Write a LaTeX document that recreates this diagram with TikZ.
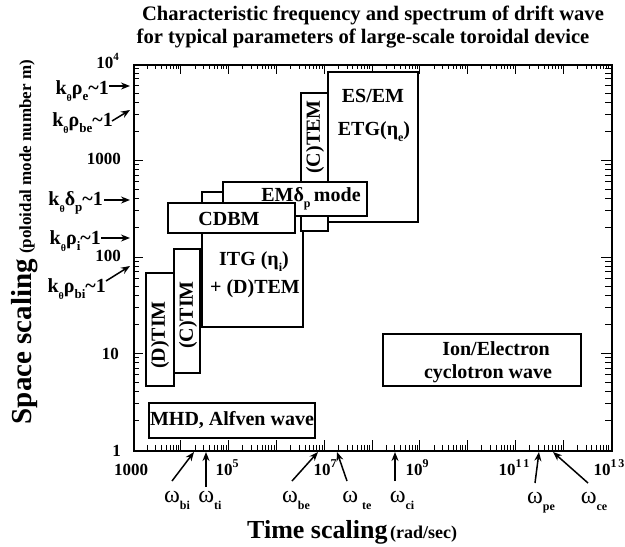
\documentclass[tikz,border=0pt]{standalone}
\usepackage{fontspec}
\setmainfont{Liberation Serif}
\usetikzlibrary{arrows.meta}
\newcommand\dn[3][0.3em]{\raisebox{-#1}{\fontsize{#2}{#2}\selectfont #3}}
\newcommand\upx[2]{\raisebox{0.42em}{\fontsize{#1}{#1}\selectfont #2}}
\newcommand\bx[5]{\node[box, anchor=north west, minimum width={(#4)-(#2)}, minimum height={(#5)-(#3)}] (#1) at (#2,#3) {};}
\tikzset{
  box/.style={draw, line width=1.2pt, fill=white, inner sep=0pt, outer sep=0pt},
  lbl/.style={font=\bfseries\fontsize{20}{22}\selectfont, inner sep=0pt},
  ttl/.style={font=\bfseries\fontsize{20.6}{22}\selectfont, inner sep=0pt},
  klbl/.style={font=\bfseries\fontsize{20}{22}\selectfont, inner sep=0pt},
  wlbl/.style={font=\fontsize{24}{24}\selectfont, inner sep=0pt},
  tlbl/.style={font=\bfseries\fontsize{17}{18}\selectfont, inner sep=0pt},
  arr/.style={line width=1.5pt, -{Stealth[length=9pt,width=7pt]}},
  tick/.style={line width=1pt},
}
\begin{document}
\begin{tikzpicture}[x=1pt,y=-1pt]
\useasboundingbox (0,0) rectangle (625,547);
% title
\node[ttl, anchor=base] (t1) at (373,20) {Characteristic frequency and spectrum of drift wave};
\node[ttl, anchor=base] (t2) at (363,43) {for typical parameters of large-scale toroidal device};
% frame
\node[draw, line width=2pt, inner sep=0pt, anchor=north west, minimum width=478, minimum height=386] (frame) at (133,64) {};
% ticks
\foreach \d in {0,...,9} {
  \foreach \k in {1,...,9} {
    \pgfmathsetmacro\xx{133+(\d+log10(\k))*47.8}
    \pgfmathsetmacro\tl{ifthenelse(\k==1,10,5)}
    \draw[tick] (\xx,450) -- (\xx,450-\tl);
    \draw[tick] (\xx,64) -- (\xx,64+\tl);
  }
}
\foreach \d in {0,...,3} {
  \foreach \k in {1,...,9} {
    \pgfmathsetmacro\yy{450-(\d+log10(\k))*96.5}
    \pgfmathsetmacro\tl{ifthenelse(\k==1,10,6)}
    \draw[tick] (133,\yy) -- (133+\tl,\yy);
    \draw[tick] (611,\yy) -- (611-\tl,\yy);
  }
}
% y tick labels
\node[tlbl, anchor=base east] (y4) at (119,68) {10\upx{11}{4}};
\node[tlbl, anchor=base east] (y3) at (121,164) {1000};
\node[tlbl, anchor=base east] (y2) at (121,261) {100};
\node[tlbl, anchor=base east] (y1) at (119,359) {10};
\node[tlbl, anchor=base east] (y0) at (121,456) {1};
% x tick labels
\node[tlbl, anchor=base] (x3) at (131,475) {1000};
\node[tlbl, anchor=base] (x5) at (227,475) {10\upx{12}{5}};
\node[tlbl, anchor=base] (x7) at (325,475) {10\upx{12}{7}};
\node[tlbl, anchor=base] (x9) at (417,475) {10\upx{12}{9}};
\node[tlbl, anchor=base] (x11) at (514,475) {10\upx{12}{1\,1}};
\node[tlbl, anchor=base] (x13) at (609,475) {10\upx{12}{1\,3}};
% boxes
\bx{dtim}{146}{273}{174}{386}
\bx{ctim}{174}{249}{200}{373}
\bx{itg}{202}{192}{303}{327}
\bx{ctem}{301}{93}{328}{231}
\bx{esem}{328}{72}{418}{222}
\bx{emdp}{223}{182}{367}{216}
\bx{cdbm}{168}{203}{295}{233}
\bx{mhd}{149}{403}{315}{438}
\bx{ion}{383}{334}{581}{386}
% box labels
\node[lbl, anchor=base] (esemA) at (373,102) {ES/EM};
\node[lbl, anchor=base] (esemB) at (374,135) {ETG(η\dn{12}{e})};
\node[lbl, rotate=90] (ctemL) at (315,137) {(C)TEM};
\node[lbl, anchor=base] (emdpL) at (311,201) {EMδ\dn{12}{p}\,mode};
\node[lbl, anchor=base] (cdbmL) at (229,225) {CDBM};
\node[lbl, anchor=base] (itgA) at (254,265) {ITG (η\dn{12}{i})};
\node[lbl, anchor=base] (itgB) at (255,293) {+ (D)TEM};
\node[lbl, rotate=90] (dtimL) at (160,335) {(D)TIM};
\node[lbl, rotate=90] (ctimL) at (188,315) {(C)TIM};
\node[lbl, anchor=base] (mhdL) at (232,425) {MHD, Alfven wave};
\node[lbl, anchor=base] (ionA) at (496,355) {Ion/Electron};
\node[lbl, anchor=base] (ionB) at (488,378) {cyclotron wave};
% left arrows
\coordinate (ke1) at (109,86);  \coordinate (ke2) at (130,86);
\coordinate (kbe1) at (112,121); \coordinate (kbe2) at (130,110);
\coordinate (kd1) at (104,200); \coordinate (kd2) at (130,200);
\coordinate (ki1) at (101,238); \coordinate (ki2) at (130,238);
\coordinate (kbi1) at (106,281); \coordinate (kbi2) at (130,266);
\foreach \a in {ke,kbe,kd,ki,kbi} \draw[arr] (\a1) -- (\a2);
\node[klbl, anchor=base east] (lke) at (109,94) {k\dn[0.35em]{10}{θ}ρ\dn{13}{e}\textasciitilde 1};
\node[klbl, anchor=base east] (lkbe) at (113,126) {k\dn[0.35em]{10}{θ}ρ\dn{13}{be}\textasciitilde 1};
\node[klbl, anchor=base east] (lkd) at (103,205) {k\dn[0.35em]{10}{θ}δ\dn{13}{p}\textasciitilde 1};
\node[klbl, anchor=base east] (lki) at (101,244) {k\dn[0.35em]{10}{θ}ρ\dn{13}{i}\textasciitilde 1};
\node[klbl, anchor=base east] (lkbi) at (106,292) {k\dn[0.35em]{10}{θ}ρ\dn{13}{bi}\textasciitilde 1};
% bottom arrows
\coordinate (wbi1) at (172,481); \coordinate (wbi2) at (194,452);
\coordinate (wti1) at (206,487); \coordinate (wti2) at (206,452);
\coordinate (wbe1) at (292,481); \coordinate (wbe2) at (318,452);
\coordinate (wte1) at (347,481); \coordinate (wte2) at (337,452);
\coordinate (wci1) at (395,481); \coordinate (wci2) at (395,452);
\coordinate (wpe1) at (535,483); \coordinate (wpe2) at (539,452);
\coordinate (wce1) at (588,483); \coordinate (wce2) at (553,452);
\foreach \a in {wbi,wti,wbe,wte,wci,wpe,wce} \draw[arr] (\a1) -- (\a2);
\node[wlbl, anchor=base] (lwbi) at (177,502) {ω\dn{12}{\bfseries bi}};
\node[wlbl, anchor=base] (lwti) at (210,502) {ω\dn{12}{\bfseries ti}};
\node[wlbl, anchor=base] (lwbe) at (296,502) {ω\dn{12}{\bfseries be}};
\node[wlbl, anchor=base] (lwte) at (357,502) {ω\,\dn{12}{\bfseries te}};
\node[wlbl, anchor=base] (lwci) at (402,502) {ω\dn{12}{\bfseries ci}};
\node[wlbl, anchor=base] (lwpe) at (541,503) {ω\dn{12}{\bfseries pe}};
\node[wlbl, anchor=base] (lwce) at (594,503) {ω\dn{12}{\bfseries ce}};
% axis titles
\node[inner sep=0pt, anchor=base west, font=\bfseries] (xt) at (247,538) {{\fontsize{26}{28}\selectfont Time scaling} {\fontsize{18}{20}\selectfont(rad/sec)}};
\node[inner sep=0pt, anchor=base, rotate=90, font=\bfseries] (yt) at (31,242) {{\fontsize{29}{30}\selectfont Space scaling}\ \ {\fontsize{17}{20}\selectfont(poloidal mode number m)}};
\end{tikzpicture}
\end{document}
